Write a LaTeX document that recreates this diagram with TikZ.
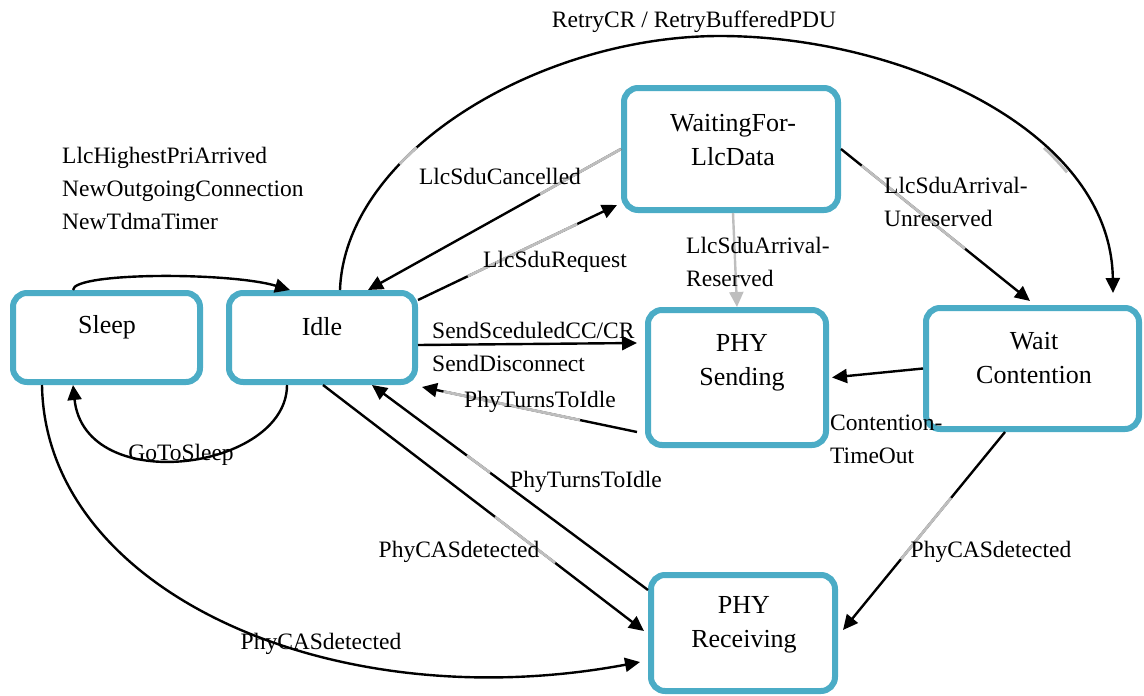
\documentclass[tikz,border=0pt]{standalone}
\usepackage{fontspec}
\setmainfont{Liberation Serif}
\usetikzlibrary{arrows.meta,calc}
\definecolor{stateblue}{RGB}{75,172,198}
\definecolor{softgray}{RGB}{190,190,190}
\begin{document}
\begin{tikzpicture}[x=1pt,y=-1pt,
  state/.style={draw=stateblue, line width=6pt, rounded corners=14pt, fill=white, inner sep=0pt},
  statetext/.style={font=\fontsize{26}{34}\selectfont, align=center, inner sep=0pt},
  lbl/.style={font=\fontsize{23.5}{33}\selectfont, inner sep=0pt},
  tr/.style={line width=2.4pt, -{Triangle[length=15pt,width=14pt]}},
  trgray/.style={tr, draw=softgray, fill=softgray},
  fade/.style={draw=softgray, line width=2.8pt},
]
\useasboundingbox (0,0) rectangle (1144,696);

% states
\node[state, minimum width=187pt, minimum height=89pt]  (sleep)   at (106.5,337.5) {};
\node[state, minimum width=186pt, minimum height=89pt]  (idle)    at (322,337.5) {};
\node[state, minimum width=214pt, minimum height=122pt] (wfl)     at (731,149) {};
\node[state, minimum width=178pt, minimum height=135pt] (sending) at (737,377.5) {};
\node[state, minimum width=213pt, minimum height=121pt] (waitc)   at (1032.5,368.5) {};
\node[state, minimum width=184pt, minimum height=116pt] (recv)    at (743,633) {};

\node[statetext] (sleep-t)   at (107,327) {Sleep};
\node[statetext] (idle-t)    at (322,327) {Idle};
\node[statetext] (wfl-t)     at (733,140) {WaitingFor-\\LlcData};
\node[statetext] (sending-t) at (742,363) {PHY\\Sending};
\node[statetext] (waitc-t)   at (1034,358.5) {Wait\\Contention};
\node[statetext] (recv-t)    at (744,624.5) {PHY\\Receiving};

% curved transitions
\draw[tr] ([xshift=-33.5pt]sleep.north) .. controls +(0,-18) and +(-60,-18) .. ([xshift=-32pt]idle.north);
\draw[tr] ([xshift=-35pt]idle.south) .. controls +(0,85) and +(12,113) .. ([xshift=-33.5pt]sleep.south);
\draw[tr] ([xshift=-64.5pt]sleep.south) .. controls +(3,205) and +(-310,58) .. ([xshift=-8pt,yshift=-29pt]recv.west);
\draw[tr] ([xshift=18pt]idle.north) .. controls +(5,-138) and +(-180,0) .. (720,36)
          .. controls +(180,0) and +(-2,-163) .. ([xshift=80.5pt,yshift=12pt]waitc.north);
% faded stretches of the long arc
\draw[fade, dash pattern=on 0pt off 142.5pt on 23.7pt off 680.2pt on 33.6pt off 3000pt]
  ([xshift=18pt]idle.north) .. controls +(5,-138) and +(-180,0) .. (720,36)
  .. controls +(180,0) and +(-2,-163) .. ([xshift=80.5pt,yshift=12pt]waitc.north);

% straight transitions, each with its faded stretch
\draw[tr] (wfl.west) -- ([xshift=46pt]idle.north);
\draw[fade] (wfl.west) -- ($(wfl.west)!0.32!([xshift=46pt]idle.north)$);

\draw[tr] ([yshift=37.5pt]idle.east) -- ([xshift=-4pt,yshift=8pt]wfl.south west);
\draw[fade] ($([yshift=37.5pt]idle.east)!0.25!([xshift=-4pt,yshift=8pt]wfl.south west)$)
         -- ($([yshift=37.5pt]idle.east)!0.80!([xshift=-4pt,yshift=8pt]wfl.south west)$);

\draw[tr] ([yshift=-7.5pt]idle.east) -- ([xshift=-8pt,yshift=34.5pt]sending.west);

\draw[tr] ([xshift=-8pt,yshift=-54.5pt]sending.west) -- ([xshift=4pt,yshift=-2pt]idle.south east);
\draw[fade] ($([xshift=-8pt,yshift=-54.5pt]sending.west)!0.265!([xshift=4pt,yshift=-2pt]idle.south east)$)
         -- ($([xshift=-8pt,yshift=-54.5pt]sending.west)!0.90!([xshift=4pt,yshift=-2pt]idle.south east)$);

\draw[trgray] ([xshift=2pt]wfl.south) -- (sending.north);

\draw[tr] (wfl.east) -- ([xshift=-2.5pt,yshift=4pt]waitc.north);
\draw[fade] ($(wfl.east)!0.11!([xshift=-2.5pt,yshift=4pt]waitc.north)$)
         -- ($(wfl.east)!0.656!([xshift=-2.5pt,yshift=4pt]waitc.north)$);

\draw[tr] (waitc.west) -- ([xshift=3pt]sending.east);

\draw[tr] ([xshift=1pt]idle.south) -- ([xshift=-4pt,yshift=2pt]recv.west);
\draw[fade] ($([xshift=1pt]idle.south)!0.536!([xshift=-4pt,yshift=2pt]recv.west)$)
         -- ($([xshift=1pt]idle.south)!0.723!([xshift=-4pt,yshift=2pt]recv.west)$);

\draw[tr] ([yshift=-18pt]recv.north west) -- ([xshift=50pt]idle.south);
\draw[fade] ($([yshift=-18pt]recv.north west)!0.572!([xshift=50pt]idle.south)$)
         -- ($([yshift=-18pt]recv.north west)!0.656!([xshift=50pt]idle.south)$);

\draw[tr] ([xshift=-27.5pt]waitc.south) -- ([xshift=5pt,yshift=3pt]recv.east);
\draw[fade] ($([xshift=-27.5pt]waitc.south)!0.333!([xshift=5pt,yshift=3pt]recv.east)$)
         -- ($([xshift=-27.5pt]waitc.south)!0.642!([xshift=5pt,yshift=3pt]recv.east)$);

% transition labels
\node[lbl, anchor=west, align=left] (l-wake) at (62,188) {LlcHighestPriArrived\\NewOutgoingConnection\\NewTdmaTimer};
\node[lbl] (l-retry)  at (694,22)  {RetryCR / RetryBufferedPDU};
\node[lbl] (l-cancel) at (500,176) {LlcSduCancelled};
\node[lbl] (l-req)    at (555,262) {LlcSduRequest};
\node[lbl, anchor=west, align=left] (l-res)   at (686,262)   {LlcSduArrival-\\Reserved};
\node[lbl, anchor=west, align=left] (l-unres) at (884,201.5) {LlcSduArrival-\\Unreserved};
\node[lbl, anchor=west] (l-sched) at (432,330) {SendSceduledCC/CR};
\node[lbl, anchor=west] (l-disc)  at (432,363) {SendDisconnect};
\node[lbl] (l-idle1) at (540,402) {PhyTurnsToIdle};
\node[lbl, anchor=west, align=left] (l-timeout) at (830,439.5) {Contention-\\TimeOut};
\node[lbl] (l-sleep) at (181,455) {GoToSleep};
\node[lbl] (l-idle2) at (586,482) {PhyTurnsToIdle};
\node[lbl] (l-cas1)  at (459,552) {PhyCASdetected};
\node[lbl] (l-cas2)  at (991,552) {PhyCASdetected};
\node[lbl] (l-cas3)  at (321,644) {PhyCASdetected};
\end{tikzpicture}
\end{document}
